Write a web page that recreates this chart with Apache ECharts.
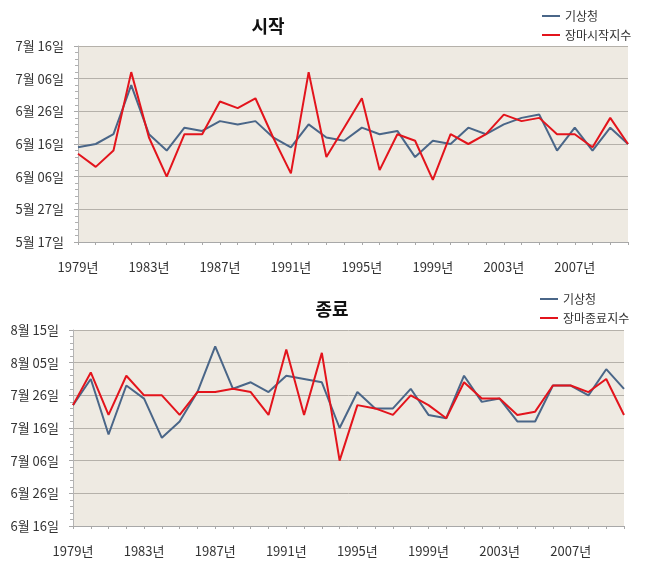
<!DOCTYPE html>
<html><head><meta charset="utf-8">
<script src="https://cdn.jsdelivr.net/npm/echarts@6/dist/echarts.min.js"></script>
<style>html,body{margin:0;padding:0;background:#fff}#c{width:656px;height:570px}</style>
</head><body><div id="c"></div>
<script>
const years = ['1979','1980','1981','1982','1983','1984','1985','1986','1987','1988','1989','1990','1991','1992','1993','1994','1995','1996','1997','1998','1999','2000','2001','2002','2003','2004','2005','2006','2007','2008','2009','2010'];
const startKMA = ['6-15','6-16','6-19','7-04','6-19','6-14','6-21','6-20','6-23','6-22','6-23','6-18','6-15','6-22','6-18','6-17','6-21','6-19','6-20','6-12','6-17','6-16','6-21','6-19','6-22','6-24','6-25','6-14','6-21','6-14','6-21','6-16'];
const startIndex = ['6-13','6-09','6-14','7-08','6-18','6-06','6-19','6-19','6-29','6-27','6-30','6-18','6-07','7-08','6-12','6-21','6-30','6-08','6-19','6-17','6-05','6-19','6-16','6-19','6-25','6-23','6-24','6-19','6-19','6-15','6-24','6-16'];
const endKMA = ['7-23','7-31','7-14','7-29','7-25','7-13','7-18','7-27','8-10','7-28','7-30','7-27','8-01','7-31','7-30','7-16','7-27','7-22','7-22','7-28','7-20','7-19','8-01','7-24','7-25','7-18','7-18','7-29','7-29','7-26','8-03','7-28'];
const endIndex = ['7-23','8-02','7-20','8-01','7-26','7-26','7-20','7-27','7-27','7-28','7-27','7-20','8-09','7-20','8-08','7-06','7-23','7-22','7-20','7-26','7-23','7-19','7-30','7-25','7-25','7-20','7-21','7-29','7-29','7-27','7-31','7-20'];
const startTitle = '시작', endTitle = '종료';
const nameKMA = '기상청', nameStart = '장마시작지수', nameEnd = '장마종료지수';
const startRange = ['5-17','7-16'];
const endRange = ['6-16','8-15'];

const cum = {5:120, 6:151, 7:181, 8:212};
const OFF = 7;
function toVal(s){ const [m,d] = s.split('-').map(Number); return cum[m] + d - OFF; }
function fmt(v){
  const doy = Math.round(v) + OFF;
  let m = 8; for (const k of [8,7,6,5]) { if (doy > cum[k]) { m = k; break; } }
  const d = doy - cum[m];
  return m + '월 ' + String(d).padStart(2,'0') + '일';
}
const FONT = '"Noto Sans CJK KR", sans-serif';
const BLUE = '#4A6688', RED = '#E3141C';

function xAxis(gi){
  return {type:'category', gridIndex:gi, data:years, boundaryGap:false,
    axisLine:{lineStyle:{color:'#A8A8A8'}},
    axisTick:{interval:0, length:3, lineStyle:{color:'#A8A8A8'}},
    axisLabel:{interval:3, margin:19, color:'#333', fontFamily:FONT, fontSize:13, formatter:v=>v+'년'},
    splitLine:{show:false}};
}
function yAxis(gi, r){
  return {type:'value', gridIndex:gi, min:toVal(r[0]), max:toVal(r[1]), interval:10,
    axisLine:{show:true, lineStyle:{color:'#B5B5B5'}},
    axisTick:{show:true, length:4, lineStyle:{color:'#A8A8A8'}},
    minorTick:{show:true, splitNumber:5, length:3, lineStyle:{color:'#B0B0B0'}},
    axisLabel:{margin:14, color:'#333', fontFamily:FONT, fontSize:13, formatter:fmt},
    splitLine:{lineStyle:{color:'#B5B1AA', width:1}}};
}
function line(name, data, color, xi){
  return {type:'line', name, xAxisIndex:xi, yAxisIndex:xi, data:data.map(toVal),
    showSymbol:false, symbol:'none', lineStyle:{color, width:2}, itemStyle:{color}, animation:false};
}
const chart = echarts.init(document.getElementById('c'), null, {renderer:'canvas'});
chart.setOption({
  animation:false,
  textStyle:{fontFamily:FONT},
  title:[
    {text:startTitle, left:263, top:12, textAlign:'center', textStyle:{fontSize:18, fontWeight:'bold', color:'#111', fontFamily:FONT}},
    {text:endTitle, left:327, top:295, textAlign:'center', textStyle:{fontSize:18, fontWeight:'bold', color:'#111', fontFamily:FONT}}
  ],
  legend:[
    {data:[nameKMA, nameStart], orient:'vertical', left:537, top:5, itemGap:7, itemWidth:18, itemHeight:2,
      icon:'rect', textStyle:{fontSize:12, color:'#333', fontFamily:FONT}},
    {data:[{name:nameKMA}, nameEnd], orient:'vertical', left:535, top:288, itemGap:7, itemWidth:18, itemHeight:2,
      icon:'rect', textStyle:{fontSize:12, color:'#333', fontFamily:FONT}}
  ],
  grid:[
    {left:78, top:46, width:550, height:196, show:true, backgroundColor:'#EEEAE2', borderWidth:0},
    {left:73, top:330, width:551, height:196, show:true, backgroundColor:'#EEEAE2', borderWidth:0}
  ],
  xAxis:[xAxis(0), xAxis(1)],
  yAxis:[yAxis(0,startRange), yAxis(1,endRange)],
  series:[
    line(nameKMA, startKMA, BLUE, 0),
    line(nameStart, startIndex, RED, 0),
    line(nameKMA, endKMA, BLUE, 1),
    line(nameEnd, endIndex, RED, 1)
  ]
});
</script></body></html>
